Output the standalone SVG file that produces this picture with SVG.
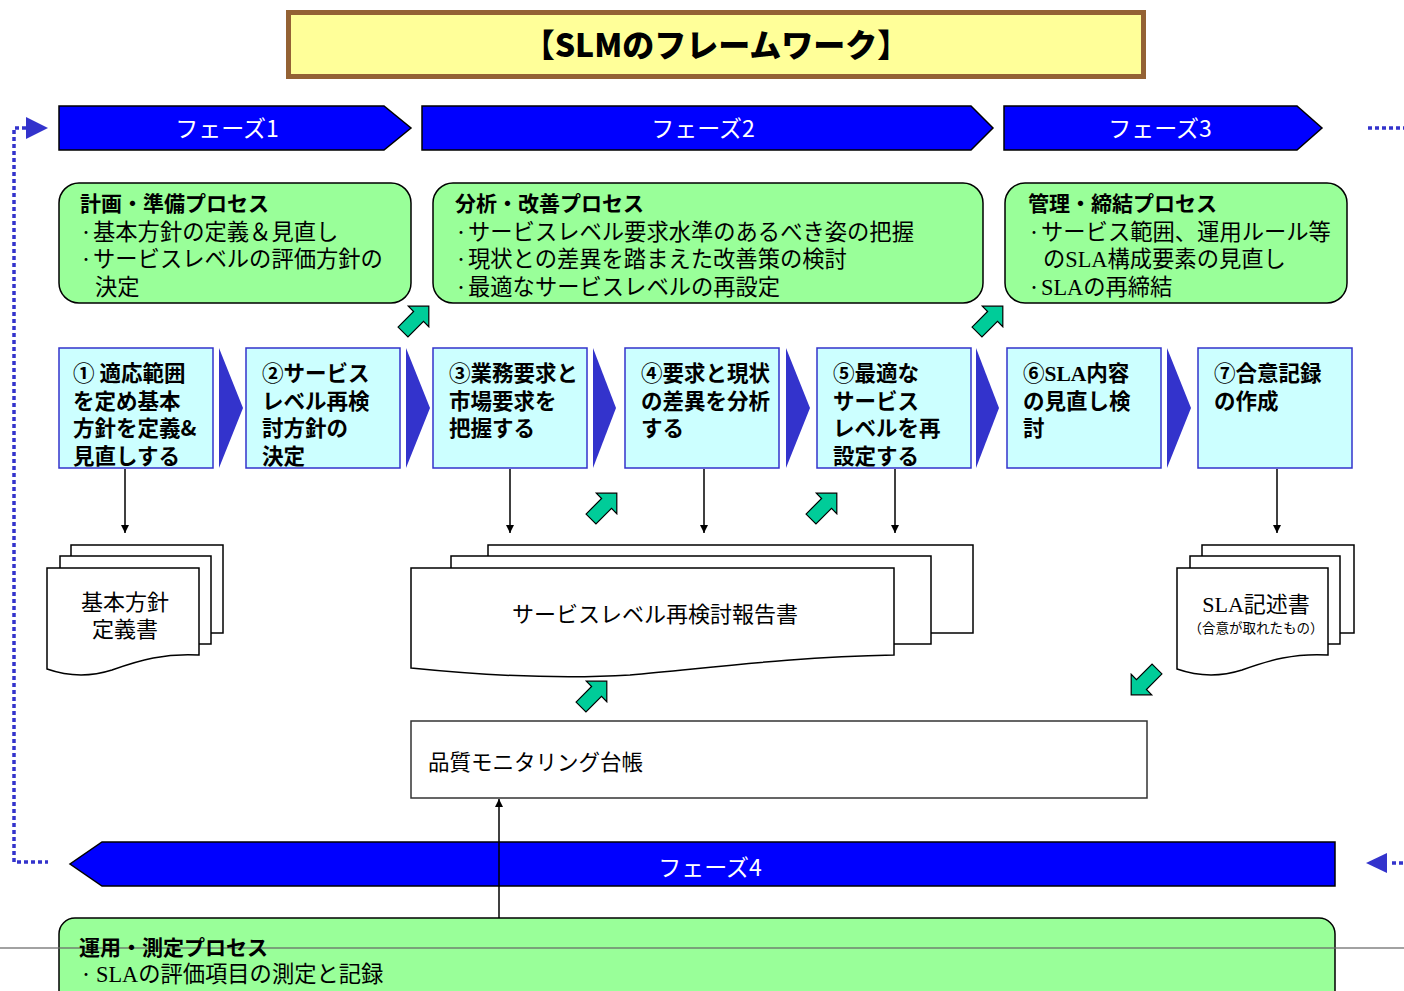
<svg xmlns="http://www.w3.org/2000/svg" width="1404" height="991" viewBox="0 0 1404 991">
<defs>
<style>
text{font-family:"Noto Sans CJK JP","Noto Sans",sans-serif;fill:#000}
.ser{font-family:"Liberation Serif","Noto Sans CJK JP",serif}
.phase{fill:#0000FF;stroke:#000;stroke-width:1.5}
.ptxt{fill:#fff;font-size:23px;text-anchor:middle}
.proc{fill:#99FF99;stroke:#000;stroke-width:1.5}
.ph{font-size:21px;font-weight:bold}
.pb{font-size:22.3px}
.bd{font-size:14px}
.step{fill:#CCFFFF;stroke:#3333CC;stroke-width:1.5}
.stxt{font-size:21.5px;font-weight:bold}
.chev{fill:#3333CC}
.doc{fill:#fff;stroke:#000;stroke-width:1.5}
.dtxt{font-size:22px;text-anchor:middle}
.garrow{fill:#00CC99;stroke:#000;stroke-width:1.2;stroke-linejoin:miter}
.conn{stroke:#000;stroke-width:1.5;fill:none}
.dot{stroke:#3333CC;stroke-width:3.5;fill:none;stroke-dasharray:4,3}
</style>
<marker id="ah" viewBox="0 0 10 10" refX="10" refY="5" markerWidth="8" markerHeight="9" markerUnits="userSpaceOnUse" orient="auto">
<path d="M0,0 L10,5 L0,10 Z" fill="#000"/>
</marker>
<path id="ga" d="M0,-7 H22 V-14.5 L36.5,0 L22,14.5 V7 H0 Z"/>
</defs>
<rect width="1404" height="991" fill="#fff"/>

<g id="title">
<rect x="288.5" y="12.5" width="855" height="64" fill="#FFFF99" stroke="#946234" stroke-width="5"/>
<text x="716" y="57" font-size="32" font-weight="900" text-anchor="middle">【SLMのフレームワーク】</text>
</g>

<g id="phase1">
<path class="phase" d="M59,106 H384 L411,128 L384,150 H59 Z"/>
<text class="ptxt" x="227" y="137">フェーズ1</text>
</g>
<g id="phase2">
<path class="phase" d="M422,106 H971 L993,128 L971,150 H422 Z"/>
<text class="ptxt" x="703" y="137">フェーズ2</text>
</g>
<g id="phase3">
<path class="phase" d="M1004,106 H1297 L1322,128 L1297,150 H1004 Z"/>
<text class="ptxt" x="1160" y="137">フェーズ3</text>
</g>
<g id="phase4">
<path class="phase" d="M102,842 H1335 V886 H102 L70,864 Z"/>
<text class="ptxt" x="710" y="876">フェーズ4</text>
</g>

<g id="proc1">
<rect class="proc" x="59" y="183" width="352" height="120" rx="20"/>
<text class="ph" x="80" y="211">計画・準備プロセス</text>
<text class="pb" x="79" y="240"><tspan class="bd" dy="-3">・</tspan><tspan dy="3">基本方針の定義＆見直し</tspan></text>
<text class="pb" x="79" y="267"><tspan class="bd" dy="-3">・</tspan><tspan dy="3">サービスレベルの評価方針の</tspan></text>
<text class="pb" x="95" y="295">決定</text>
</g>
<g id="proc2">
<rect class="proc" x="433" y="183" width="550" height="120" rx="20"/>
<text class="ph" x="455" y="211">分析・改善プロセス</text>
<text class="pb" x="454" y="240"><tspan class="bd" dy="-3">・</tspan><tspan dy="3">サービスレベル要求水準のあるべき姿の把握</tspan></text>
<text class="pb" x="454" y="267"><tspan class="bd" dy="-3">・</tspan><tspan dy="3">現状との差異を踏まえた改善策の検討</tspan></text>
<text class="pb" x="454" y="295"><tspan class="bd" dy="-3">・</tspan><tspan dy="3">最適なサービスレベルの再設定</tspan></text>
</g>
<g id="proc3">
<rect class="proc" x="1005" y="183" width="342" height="120" rx="20"/>
<text class="ph" x="1028" y="211">管理・締結プロセス</text>
<text class="pb" x="1027" y="240"><tspan class="bd" dy="-3">・</tspan><tspan dy="3">サービス範囲、運用ルール等</tspan></text>
<text class="pb" x="1043" y="267">の<tspan class="ser">SLA</tspan>構成要素の見直し</text>
<text class="pb" x="1027" y="295"><tspan class="bd" dy="-3">・</tspan><tspan dy="3" class="ser">SLA</tspan>の再締結</text>
</g>

<g id="step1">
<rect class="step" x="59" y="348" width="154" height="120"/>
<text class="stxt"><tspan x="73" y="381">① 適応範囲</tspan><tspan x="73" y="409">を定め基本</tspan><tspan x="73" y="436">方針を定義&amp;</tspan><tspan x="73" y="464">見直しする</tspan></text>
</g>
<g id="step2">
<rect class="step" x="246" y="348" width="154" height="120"/>
<text class="stxt"><tspan x="262" y="381">②サービス</tspan><tspan x="262" y="409">レベル再検</tspan><tspan x="262" y="436">討方針の</tspan><tspan x="262" y="464">決定</tspan></text>
</g>
<g id="step3">
<rect class="step" x="433" y="348" width="154" height="120"/>
<text class="stxt"><tspan x="449" y="381">③業務要求と</tspan><tspan x="449" y="409">市場要求を</tspan><tspan x="449" y="436">把握する</tspan></text>
</g>
<g id="step4">
<rect class="step" x="625" y="348" width="154" height="120"/>
<text class="stxt"><tspan x="641" y="381">④要求と現状</tspan><tspan x="641" y="409">の差異を分析</tspan><tspan x="641" y="436">する</tspan></text>
</g>
<g id="step5">
<rect class="step" x="817" y="348" width="154" height="120"/>
<text class="stxt"><tspan x="833" y="381">⑤最適な</tspan><tspan x="833" y="409">サービス</tspan><tspan x="833" y="436">レベルを再</tspan><tspan x="833" y="464">設定する</tspan></text>
</g>
<g id="step6">
<rect class="step" x="1007" y="348" width="154" height="120"/>
<text class="stxt"><tspan x="1023" y="381">⑥<tspan class="ser">SLA</tspan>内容</tspan><tspan x="1023" y="409">の見直し検</tspan><tspan x="1023" y="436">討</tspan></text>
</g>
<g id="step7">
<rect class="step" x="1198" y="348" width="154" height="120"/>
<text class="stxt"><tspan x="1214" y="381">⑦合意記録</tspan><tspan x="1214" y="409">の作成</tspan></text>
</g>

<g id="chevrons">
<path class="chev" d="M219,348 L243,408 L219,468 Z"/>
<path class="chev" d="M406,348 L430,408 L406,468 Z"/>
<path class="chev" d="M593,348 L616,408 L593,468 Z"/>
<path class="chev" d="M786,348 L810,408 L786,468 Z"/>
<path class="chev" d="M976,348 L999,408 L976,468 Z"/>
<path class="chev" d="M1167,348 L1191,408 L1167,468 Z"/>
</g>

<g id="doc1">
<rect class="doc" x="71" y="545" width="152" height="88"/>
<rect class="doc" x="60" y="556" width="151" height="88"/>
<path class="doc" d="M47,568 H199 V655 C165,653 140,660 112,670 C90,677 70,677 47,669 Z"/>
<text class="dtxt"><tspan x="125" y="610">基本方針</tspan><tspan x="125" y="637">定義書</tspan></text>
</g>
<g id="doc2">
<rect class="doc" x="488" y="545" width="485" height="88"/>
<rect class="doc" x="451" y="556" width="480" height="88"/>
<path class="doc" d="M411,568 H894 V655 C790,657 710,668 630,675 C550,680 470,674 411,668 Z"/>
<text class="dtxt" x="655" y="622">サービスレベル再検討報告書</text>
</g>
<g id="doc3">
<rect class="doc" x="1202" y="545" width="152" height="88"/>
<rect class="doc" x="1190" y="556" width="150" height="88"/>
<path class="doc" d="M1177,568 H1328 V655 C1294,653 1270,660 1242,670 C1220,677 1200,677 1177,669 Z"/>
<text class="dtxt" x="1256" y="612"><tspan class="ser">SLA</tspan>記述書</text>
<text x="1256" y="633" font-size="13.5" text-anchor="middle">（合意が取れたもの）</text>
</g>

<g id="ledger">
<rect x="411" y="721" width="736" height="77" fill="#fff" stroke="#333" stroke-width="1.5"/>
<text x="428" y="770" font-size="21.5">品質モニタリング台帳</text>
</g>

<g id="proc4">
<rect class="proc" x="59" y="918" width="1276" height="100" rx="16"/>
<line x1="0" y1="948" x2="1404" y2="948" stroke="#666" stroke-width="2" opacity="0.6"/>
<text class="ph" x="79" y="955">運用・測定プロセス</text>
<text class="pb" x="79" y="982"><tspan class="bd" dy="-3">・</tspan><tspan dx="3" dy="3" class="ser">SLA</tspan>の評価項目の測定と記録</text>
</g>

<g id="connectors">
<line class="conn" x1="125" y1="469" x2="125" y2="533" marker-end="url(#ah)"/>
<line class="conn" x1="510" y1="469" x2="510" y2="533" marker-end="url(#ah)"/>
<line class="conn" x1="704" y1="469" x2="704" y2="533" marker-end="url(#ah)"/>
<line class="conn" x1="895" y1="469" x2="895" y2="533" marker-end="url(#ah)"/>
<line class="conn" x1="1277" y1="469" x2="1277" y2="533" marker-end="url(#ah)"/>
<line class="conn" x1="499" y1="918" x2="499" y2="799" marker-end="url(#ah)"/>
<use href="#ga" class="garrow" transform="translate(403,332) rotate(-45)"/>
<use href="#ga" class="garrow" transform="translate(977,332) rotate(-45)"/>
<use href="#ga" class="garrow" transform="translate(591,519) rotate(-45)"/>
<use href="#ga" class="garrow" transform="translate(811,519) rotate(-45)"/>
<use href="#ga" class="garrow" transform="translate(581,707) rotate(-45)"/>
<use href="#ga" class="garrow" transform="translate(1157,669) rotate(135)"/>
<path class="dot" d="M26,128 H14 V862 H48"/>
<path d="M26,117 L48,128 L26,139 Z" fill="#3333CC"/>
<path class="dot" d="M1368,128 H1404"/>
<path d="M1387,853 L1366,863 L1387,873 Z" fill="#3333CC"/>
<path class="dot" d="M1392,863 H1404"/>
</g>
</svg>
